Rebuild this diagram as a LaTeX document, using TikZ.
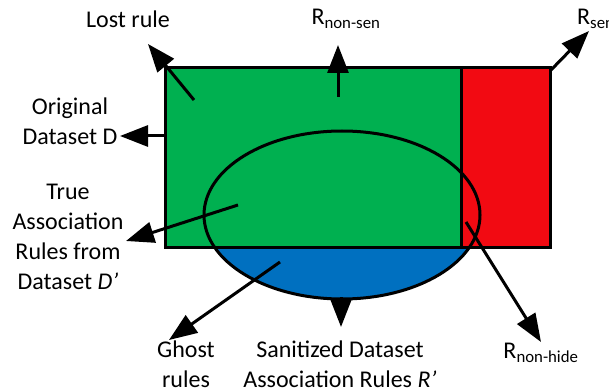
\documentclass[tikz,border=0pt]{standalone}
\usepackage{fontspec}
\setmainfont{Carlito}
\usetikzlibrary{arrows.meta}
\definecolor{setgreen}{HTML}{00B050}
\definecolor{setred}{HTML}{F20A12}
\definecolor{setblue}{HTML}{0070C0}
\tikzset{
  pointer/.style={line width=3pt,-{Triangle[length=28pt,width=21pt]}},
  outline/.style={line width=3pt},
  lbl/.style={align=center,inner sep=0pt,font=\fontsize{24}{30}\selectfont}
}
\begin{document}
\begin{tikzpicture}[x=1pt,y=-1pt]
\useasboundingbox (0,0) rectangle (609,390);
% regions
\fill[setgreen] (165,68) rectangle (461,247);
\fill[setred] (461,68) rectangle (550,247);
\begin{scope}
  \clip (100,247) rectangle (560,320);
  \fill[setblue] (342,215) ellipse [x radius=138pt,y radius=84pt];
\end{scope}
\draw[outline] (342,215) ellipse [x radius=138pt,y radius=84pt];
\draw[outline] (165,68) rectangle (550,247);
\draw[outline] (461,68) -- (461,247);
% anchor points of the pointers
\coordinate (lostP) at (194,100);
\coordinate (nonsenP) at (338,97);
\coordinate (senP) at (551,70);
\coordinate (origP) at (166,136);
\coordinate (trueP) at (238,205);
\coordinate (ghostP) at (280,262);
\coordinate (sanP) at (341,297);
\coordinate (nonhideP) at (466,222);
% labels
\node[lbl] (lost) at (128,19) {Lost rule};
\node[lbl] (nonsen) at (346,19) {R\textsubscript{non-sen}};
\node[lbl,anchor=west] (sen) at (577,19) {R\textsubscript{sen}};
\node[lbl] (orig) at (70,121) {Original\\Dataset D};
\node[lbl] (true) at (68,237) {True\\Association\\Rules from\\Dataset \textit{D'}};
\node[lbl] (ghost) at (186,364) {Ghost\\rules};
\node[lbl] (san) at (340,364) {Sanitized Dataset\\Association Rules \textit{R'}};
\node[lbl] (nonhide) at (541,353) {R\textsubscript{non-hide}};
% pointers
\coordinate (lostH) at (148,44);
\coordinate (nonsenH) at (338,45);
\coordinate (senH) at (589,31);
\coordinate (origH) at (120,136);
\coordinate (trueH) at (126,241);
\coordinate (ghostH) at (169,340);
\coordinate (sanH) at (341,327);
\coordinate (nonhideH) at (541,342);
\draw[pointer] (lostP) -- (lostH);
\draw[pointer] (nonsenP) -- (nonsenH);
\draw[pointer] (senP) -- (senH);
\draw[pointer] (origP) -- (origH);
\draw[pointer] (trueP) -- (trueH);
\draw[pointer] (ghostP) -- (ghostH);
\draw[pointer] (sanP) -- (sanH);
\draw[pointer] (nonhideP) -- (nonhideH);
\end{tikzpicture}
\end{document}
